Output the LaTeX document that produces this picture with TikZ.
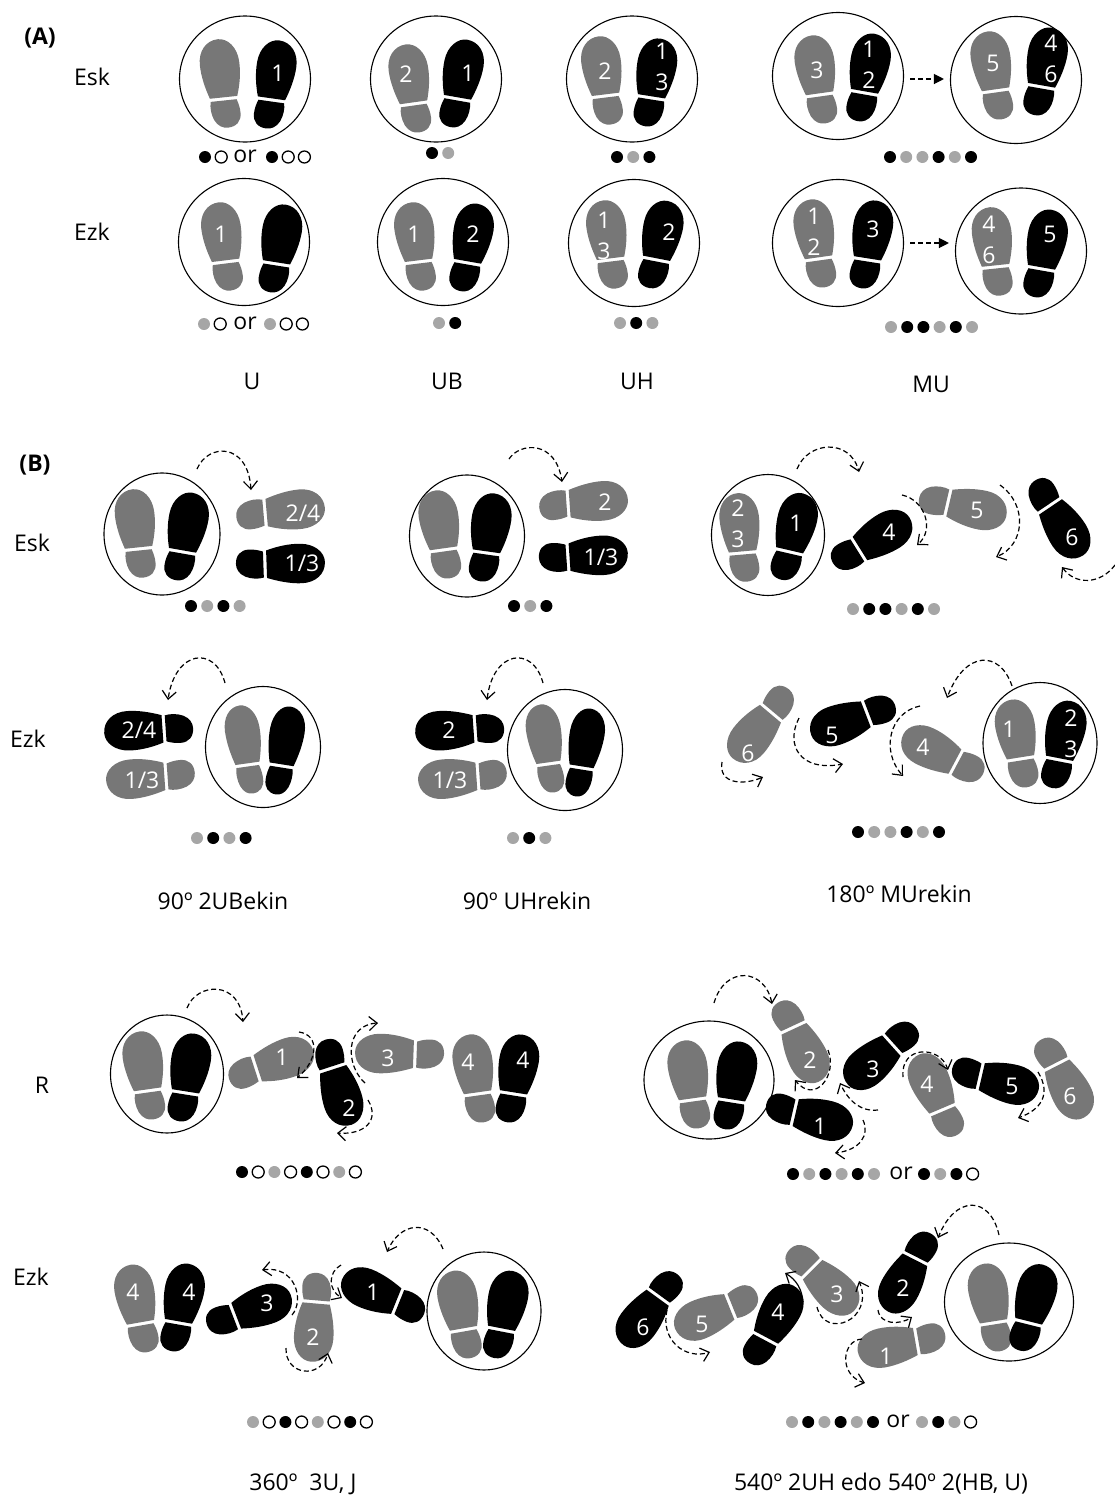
\documentclass[tikz,border=0pt]{standalone}
\usepackage{fontspec}
\setmainfont{Open Sans}
\usetikzlibrary{arrows.meta,shapes.geometric}
\definecolor{shoegray}{HTML}{777777}
\definecolor{beatgray}{HTML}{A6A6A6}

% x, y, angle, foot
\newcommand{\shoe}[4]{%
  \begin{scope}[shift={(#1,#2)},rotate=#3]
    \path[#4] (-14.5,-1.6) .. controls (-18,-12) and (-20.5,-24) .. (-20,-36)
      .. controls (-19.5,-50) and (-11,-60) .. (-1,-60)
      .. controls (11,-60) and (19.5,-50) .. (19.5,-36)
      .. controls (19.5,-24) and (16.5,-12) .. (13,-1.6) -- cycle;
    \path[#4] (-13.5,1.6) -- (12.5,1.6) .. controls (14,7) and (13.5,14) .. (11,20)
      .. controls (8,26.5) and (3,29) .. (-2,29)
      .. controls (-10.5,29) and (-16,24) .. (-16,15.5)
      .. controls (-16,10) and (-15,6) .. (-13.5,1.6) -- cycle;
  \end{scope}}
% x, y, list of beats
\newcommand{\beats}[3]{%
  \foreach \b [count=\i] in {#3}
    \node[beat\b] (beat_#1_#2_\i) at ({#1+16.2*(\i-1)},#2) {};}

\begin{document}
\begin{tikzpicture}[x=1pt,y=-1pt]
\tikzset{
  leftfoot/.style={fill=shoegray,xscale=-1},
  rightfoot/.style={fill=black},
  footring/.style={ellipse,draw=black,line width=1.1pt,inner sep=0pt},
  shoetext/.style={text=white,font=\fontsize{23}{31}\selectfont,align=center,inner sep=0pt},
  caption/.style={font=\fontsize{23}{26}\selectfont,inner sep=0pt},
  beatk/.style={circle,fill=black,minimum size=12pt,inner sep=0pt},
  beatg/.style={circle,fill=beatgray,minimum size=12pt,inner sep=0pt},
  beatw/.style={circle,draw=black,line width=1.3pt,minimum size=12pt,inner sep=0pt},
  steparrow/.style={line width=1.2pt,dash pattern=on 5pt off 3pt,-{Straight Barb[length=8pt,width=14pt]}},
  nextarrow/.style={line width=1.2pt,dash pattern=on 5pt off 3pt,-{Triangle[length=10pt,width=10pt]}}
}
\useasboundingbox (0,0) rectangle (1115,1497);
% panel A rings
\node[footring,minimum width=131pt,minimum height=126pt] (r_a1) at (245,79) {};
\node[footring,minimum width=131pt,minimum height=126pt] (r_a2) at (436,79) {};
\node[footring,minimum width=131pt,minimum height=126pt] (r_a3) at (632,79) {};
\node[footring,minimum width=131pt,minimum height=127pt] (r_a4) at (838,76) {};
\node[footring,minimum width=131pt,minimum height=127pt] (r_a5) at (1016,80) {};
\node[footring,minimum width=131pt,minimum height=127pt] (r_a6) at (244,242) {};
\node[footring,minimum width=131pt,minimum height=127pt] (r_a7) at (443,242) {};
\node[footring,minimum width=131pt,minimum height=127pt] (r_a8) at (634,243) {};
\node[footring,minimum width=131pt,minimum height=127pt] (r_a9) at (838,243) {};
\node[footring,minimum width=131pt,minimum height=126pt] (r_a10) at (1021,251) {};
% panel B rings
\node[footring,minimum width=116pt,minimum height=122pt] (r_b1) at (162,534) {};
\node[footring,minimum width=115pt,minimum height=122pt] (r_b2) at (467,536) {};
\node[footring,minimum width=113pt,minimum height=121pt] (r_b3) at (768,535) {};
\node[footring,minimum width=115pt,minimum height=121pt] (r_b4) at (263,747) {};
\node[footring,minimum width=115pt,minimum height=121pt] (r_b5) at (565,750) {};
\node[footring,minimum width=114pt,minimum height=121pt] (r_b6) at (1040,743) {};
\node[footring,minimum width=113pt,minimum height=118pt] (r_c1) at (167,1074) {};
\node[footring,minimum width=130pt,minimum height=118pt] (r_c2) at (709,1080) {};
\node[footring,minimum width=114pt,minimum height=118pt] (r_c3) at (484,1311) {};
\node[footring,minimum width=129pt,minimum height=118pt] (r_c4) at (1009,1302) {};
% panel A shoes
\shoe{223}{99}{6}{leftfoot}
\shoe{272}{100}{-8}{rightfoot}
\shoe{413}{104}{8}{leftfoot}
\shoe{458}{99}{-10}{rightfoot}
\shoe{605}{96}{7}{leftfoot}
\shoe{652}{98}{-9}{rightfoot}
\shoe{819}{95}{8}{leftfoot}
\shoe{865}{93}{-10}{rightfoot}
\shoe{995}{91}{8}{leftfoot}
\shoe{1042}{87}{-10}{rightfoot}
\shoe{225}{262}{7}{leftfoot}
\shoe{277}{264}{-9}{rightfoot}
\shoe{418}{262}{7}{leftfoot}
\shoe{468}{263}{-10}{rightfoot}
\shoe{610}{260}{7}{leftfoot}
\shoe{657}{260}{-11}{rightfoot}
\shoe{818}{259}{8}{leftfoot}
\shoe{868}{260}{-9}{rightfoot}
\shoe{995}{267}{6}{leftfoot}
\shoe{1042}{269}{-10}{rightfoot}
% panel B shoes
\shoe{138}{549}{6}{leftfoot}
\shoe{183}{552}{-10}{rightfoot}
\shoe{265}{512}{-85}{leftfoot}
\shoe{265}{565}{-88}{rightfoot}
\shoe{443}{550}{8}{leftfoot}
\shoe{487}{553}{-8}{rightfoot}
\shoe{568}{503}{-86}{leftfoot}
\shoe{568}{558}{-86}{rightfoot}
\shoe{742}{553}{5}{leftfoot}
\shoe{790}{552}{-13}{rightfoot}
\shoe{859}{550}{-58}{rightfoot}
\shoe{948}{502}{-103}{leftfoot}
\shoe{1049}{506}{-146}{rightfoot}
\shoe{247}{765}{8}{leftfoot,xscale=0.88}
\shoe{282}{766}{-9}{rightfoot,xscale=0.88}
\shoe{164}{728}{94}{rightfoot}
\shoe{166}{777}{94}{leftfoot}
\shoe{548}{764}{8}{leftfoot,xscale=0.88}
\shoe{582}{768}{-9}{rightfoot,xscale=0.88}
\shoe{475}{728}{94}{rightfoot}
\shoe{478}{777}{94}{leftfoot}
\shoe{1020}{759}{9}{leftfoot}
\shoe{1060}{760}{-11}{rightfoot}
\shoe{956}{763}{62}{leftfoot}
\shoe{867}{713}{111}{rightfoot}
\shoe{772}{713}{140}{leftfoot}
% turns, right
\shoe{147}{1091}{8}{leftfoot}
\shoe{186}{1093}{-9}{rightfoot}
\shoe{256}{1068}{-72}{leftfoot}
\shoe{332}{1068}{-162}{rightfoot}
\shoe{415}{1055}{88}{leftfoot}
\shoe{477}{1094}{8}{leftfoot}
\shoe{514}{1094}{-9}{rightfoot}
\shoe{692}{1100}{8}{leftfoot}
\shoe{732}{1101}{-9}{rightfoot}
\shoe{794}{1027}{-155}{leftfoot}
\shoe{794}{1113}{-103}{rightfoot}
\shoe{892}{1044}{132}{rightfoot}
\shoe{942}{1110}{23}{leftfoot}
\shoe{980}{1077}{-103}{rightfoot}
\shoe{1057}{1064}{-153}{leftfoot}
% turns, left
\shoe{463}{1330}{10}{leftfoot}
\shoe{502}{1330}{-11}{rightfoot}
\shoe{398}{1301}{68}{rightfoot}
\shoe{317}{1302}{175}{leftfoot}
\shoe{235}{1317}{-69}{rightfoot}
\shoe{179}{1323}{-10}{rightfoot}
\shoe{140}{1324}{10}{leftfoot}
\shoe{993}{1323}{9}{leftfoot}
\shoe{1029}{1323}{-14}{rightfoot}
\shoe{917}{1342}{100}{leftfoot}
\shoe{915}{1258}{153}{rightfoot}
\shoe{812}{1268}{-135}{leftfoot}
\shoe{766}{1339}{-28}{rightfoot}
\shoe{731}{1307}{112}{leftfoot}
\shoe{658}{1296}{144}{rightfoot}
% numbers on the shoes
\node[shoetext] (t_a1) at (278,73) {1};
\node[shoetext] (t_a2) at (406,74) {2};
\node[shoetext] (t_a3) at (468,73) {1};
\node[shoetext] (t_a4) at (605,71) {2};
\node[shoetext] (t_a5) at (662,67) {1\\3};
\node[shoetext] (t_a6) at (817,70) {3};
\node[shoetext] (t_a7) at (869,65) {1\\2};
\node[shoetext] (t_a8) at (993,63) {5};
\node[shoetext] (t_a9) at (1051,59) {4\\6};
\node[shoetext] (t_a10) at (221,234) {1};
\node[shoetext] (t_a11) at (414,234) {1};
\node[shoetext] (t_a12) at (473,234) {2};
\node[shoetext] (t_a13) at (604,236) {1\\3};
\node[shoetext] (t_a14) at (669,232) {2};
\node[shoetext] (t_a15) at (814,232) {1\\2};
\node[shoetext] (t_a16) at (873,229) {3};
\node[shoetext] (t_a17) at (989,240) {4\\6};
\node[shoetext] (t_a18) at (1050,234) {5};
\node[shoetext] (t_b1) at (303,513) {2/4};
\node[shoetext] (t_b2) at (302,563) {1/3};
\node[shoetext] (t_b3) at (605,502) {2};
\node[shoetext] (t_b4) at (601,557) {1/3};
\node[shoetext] (t_b5) at (738,524) {2\\3};
\node[shoetext] (t_b6) at (796,523) {1};
\node[shoetext] (t_b7) at (889,532) {4};
\node[shoetext] (t_b8) at (977,510) {5};
\node[shoetext] (t_b9) at (1072,537) {6};
\node[shoetext] (t_b10) at (139,730) {2/4};
\node[shoetext] (t_b11) at (142,780) {1/3};
\node[shoetext] (t_b12) at (449,730) {2};
\node[shoetext] (t_b13) at (450,780) {1/3};
\node[shoetext] (t_b14) at (1009,729) {1};
\node[shoetext] (t_b15) at (1071,734) {2\\3};
\node[shoetext] (t_b16) at (923,747) {4};
\node[shoetext] (t_b17) at (832,735) {5};
\node[shoetext] (t_b18) at (748,753) {6};
\node[shoetext] (t_c1) at (282,1057) {1};
\node[shoetext] (t_c2) at (349,1108) {2};
\node[shoetext] (t_c3) at (388,1058) {3};
\node[shoetext] (t_c4) at (468,1062) {4};
\node[shoetext] (t_c5) at (523,1060) {4};
\node[shoetext] (t_c6) at (820,1126) {1};
\node[shoetext] (t_c7) at (810,1060) {2};
\node[shoetext] (t_c8) at (873,1069) {3};
\node[shoetext] (t_c9) at (927,1084) {4};
\node[shoetext] (t_c10) at (1012,1086) {5};
\node[shoetext] (t_c11) at (1070,1096) {6};
\node[shoetext] (t_c12) at (373,1292) {1};
\node[shoetext] (t_c13) at (313,1337) {2};
\node[shoetext] (t_c14) at (267,1303) {3};
\node[shoetext] (t_c15) at (189,1292) {4};
\node[shoetext] (t_c16) at (133,1292) {4};
\node[shoetext] (t_c17) at (886,1356) {1};
\node[shoetext] (t_c18) at (903,1288) {2};
\node[shoetext] (t_c19) at (837,1294) {3};
\node[shoetext] (t_c20) at (778,1312) {4};
\node[shoetext] (t_c21) at (702,1324) {5};
\node[shoetext] (t_c22) at (643,1327) {6};
% arrows
\draw[nextarrow,shorten <=6pt,shorten >=6pt] (r_a4.east |- 0,79) -- (r_a5.west |- 0,79);
\draw[nextarrow,shorten <=6pt,shorten >=6pt] (r_a9.east) -- (r_a9.east -| r_a10.west);
\draw[steparrow] (197,469) .. controls (208,443) and (248,442) .. (251,490);
\draw[steparrow] (509,459) .. controls (520,442) and (556,440) .. (562,482);
\draw[steparrow] (797,469) .. controls (808,441) and (850,438) .. (859,472);
\draw[steparrow] (902,495) .. controls (925,500) and (935,530) .. (917,545);
\draw[steparrow] (1000,485) .. controls (1028,505) and (1025,545) .. (996,557);
\draw[steparrow] (1115,565) .. controls (1100,585) and (1075,585) .. (1062,567);
\draw[steparrow] (225,683) .. controls (215,645) and (175,650) .. (168,700);
\draw[steparrow] (543,683) .. controls (533,645) and (493,650) .. (487,700);
\draw[steparrow] (1012,686) .. controls (1000,650) and (965,650) .. (947,698);
\draw[steparrow] (920,706) .. controls (890,712) and (880,750) .. (903,776);
\draw[steparrow] (799,718) .. controls (785,745) and (800,772) .. (843,764);
\draw[steparrow] (722,762) .. controls (718,785) and (745,785) .. (763,777);
\draw[steparrow] (187,1008) .. controls (197,982) and (240,980) .. (243,1022);
\draw[steparrow] (299,1032) .. controls (320,1035) and (318,1060) .. (297,1078);
\draw[steparrow] (365,1083) .. controls (345,1065) and (345,1025) .. (378,1023);
\draw[steparrow] (368,1100) .. controls (380,1120) and (365,1135) .. (337,1133);
\draw[steparrow] (714,1003) .. controls (725,965) and (765,968) .. (772,1004);
\draw[steparrow] (828,1050) .. controls (838,1075) and (815,1105) .. (795,1080);
\draw[steparrow] (878,1110) .. controls (860,1112) and (848,1100) .. (840,1083);
\draw[steparrow] (863,1120) .. controls (870,1135) and (860,1150) .. (835,1153);
\draw[steparrow] (903,1077) .. controls (900,1045) and (940,1045) .. (948,1070);
\draw[steparrow] (1038,1072) .. controls (1052,1095) and (1040,1110) .. (1018,1118);
\draw[steparrow] (443,1249) .. controls (430,1218) and (400,1222) .. (387,1252);
\draw[steparrow] (341,1265) .. controls (328,1272) and (328,1290) .. (342,1298);
\draw[steparrow] (292,1315) .. controls (305,1300) and (295,1265) .. (262,1270);
\draw[steparrow] (286,1348) .. controls (285,1375) and (320,1380) .. (328,1353);
\draw[steparrow] (999,1235) .. controls (990,1195) and (955,1195) .. (938,1238);
\draw[steparrow] (862,1339) .. controls (842,1340) and (838,1375) .. (865,1383);
\draw[steparrow] (878,1310) .. controls (880,1325) and (900,1325) .. (912,1317);
\draw[steparrow] (817,1307) .. controls (825,1340) and (875,1320) .. (859,1281);
\draw[steparrow,solid] (803,1302) .. controls (802,1290) and (797,1280) .. (785,1273);
\draw[steparrow] (667,1310) .. controls (660,1340) and (685,1360) .. (710,1352);
% beats
\beats{205}{157}{k,w}
\node[caption] (or_a1) at (245,156) {or};
\beats{272}{157}{k,w,w}
\beats{432}{153}{k,g}
\beats{617}{157}{k,g,k}
\beats{890}{157}{k,g,g,k,g,k}
\beats{204}{324}{g,w}
\node[caption] (or_a2) at (245,323) {or};
\beats{270}{324}{g,w,w}
\beats{439}{323}{g,k}
\beats{620}{323}{g,k,g}
\beats{891}{327}{g,k,k,g,k,g}
\beats{191}{606}{k,g,k,g}
\beats{514}{606}{k,g,k}
\beats{853}{609}{g,k,k,g,k,g}
\beats{197}{838}{g,k,g,k}
\beats{513}{838}{g,k,g}
\beats{858}{832}{k,g,g,k,g,k}
\beats{242}{1172}{k,w,g,w,k,w,g,w}
\beats{793}{1174}{k,g,k,g,k,g}
\node[caption] (or_c1) at (901,1173) {or};
\beats{924}{1174}{k,g,k,w}
\beats{253}{1422}{g,w,k,w,g,w,k,w}
\beats{792}{1422}{g,k,g,k,g,k}
\node[caption] (or_c2) at (898,1421) {or};
\beats{922}{1422}{g,k,g,w}
% captions
\node[caption] (l_A) at (40,38) {\textbf{(A)}};
\node[caption] (l_B) at (35,465) {\textbf{(B)}};
\node[caption] (l_esk1) at (92,77) {Esk};
\node[caption] (l_ezk1) at (92,232) {Ezk};
\node[caption] (l_u) at (252,381) {U};
\node[caption] (l_ub) at (447,381) {UB};
\node[caption] (l_uh) at (637,381) {UH};
\node[caption] (l_mu) at (931,384) {MU};
\node[caption] (l_esk2) at (32,543) {Esk};
\node[caption] (l_ezk2) at (28,739) {Ezk};
\node[caption] (l_2ub) at (223,901) {90º 2UBekin};
\node[caption] (l_uhr) at (527,901) {90º UHrekin};
\node[caption] (l_mur) at (899,894) {180º MUrekin};
\node[caption] (l_r) at (42,1085) {R};
\node[caption] (l_ezk3) at (31,1277) {Ezk};
\node[caption] (l_360) at (303,1484) {360º\ \ 3U, J};
\node[caption] (l_540) at (881,1484) {540º 2UH edo 540º 2(HB, U)};
\end{tikzpicture}
\end{document}
